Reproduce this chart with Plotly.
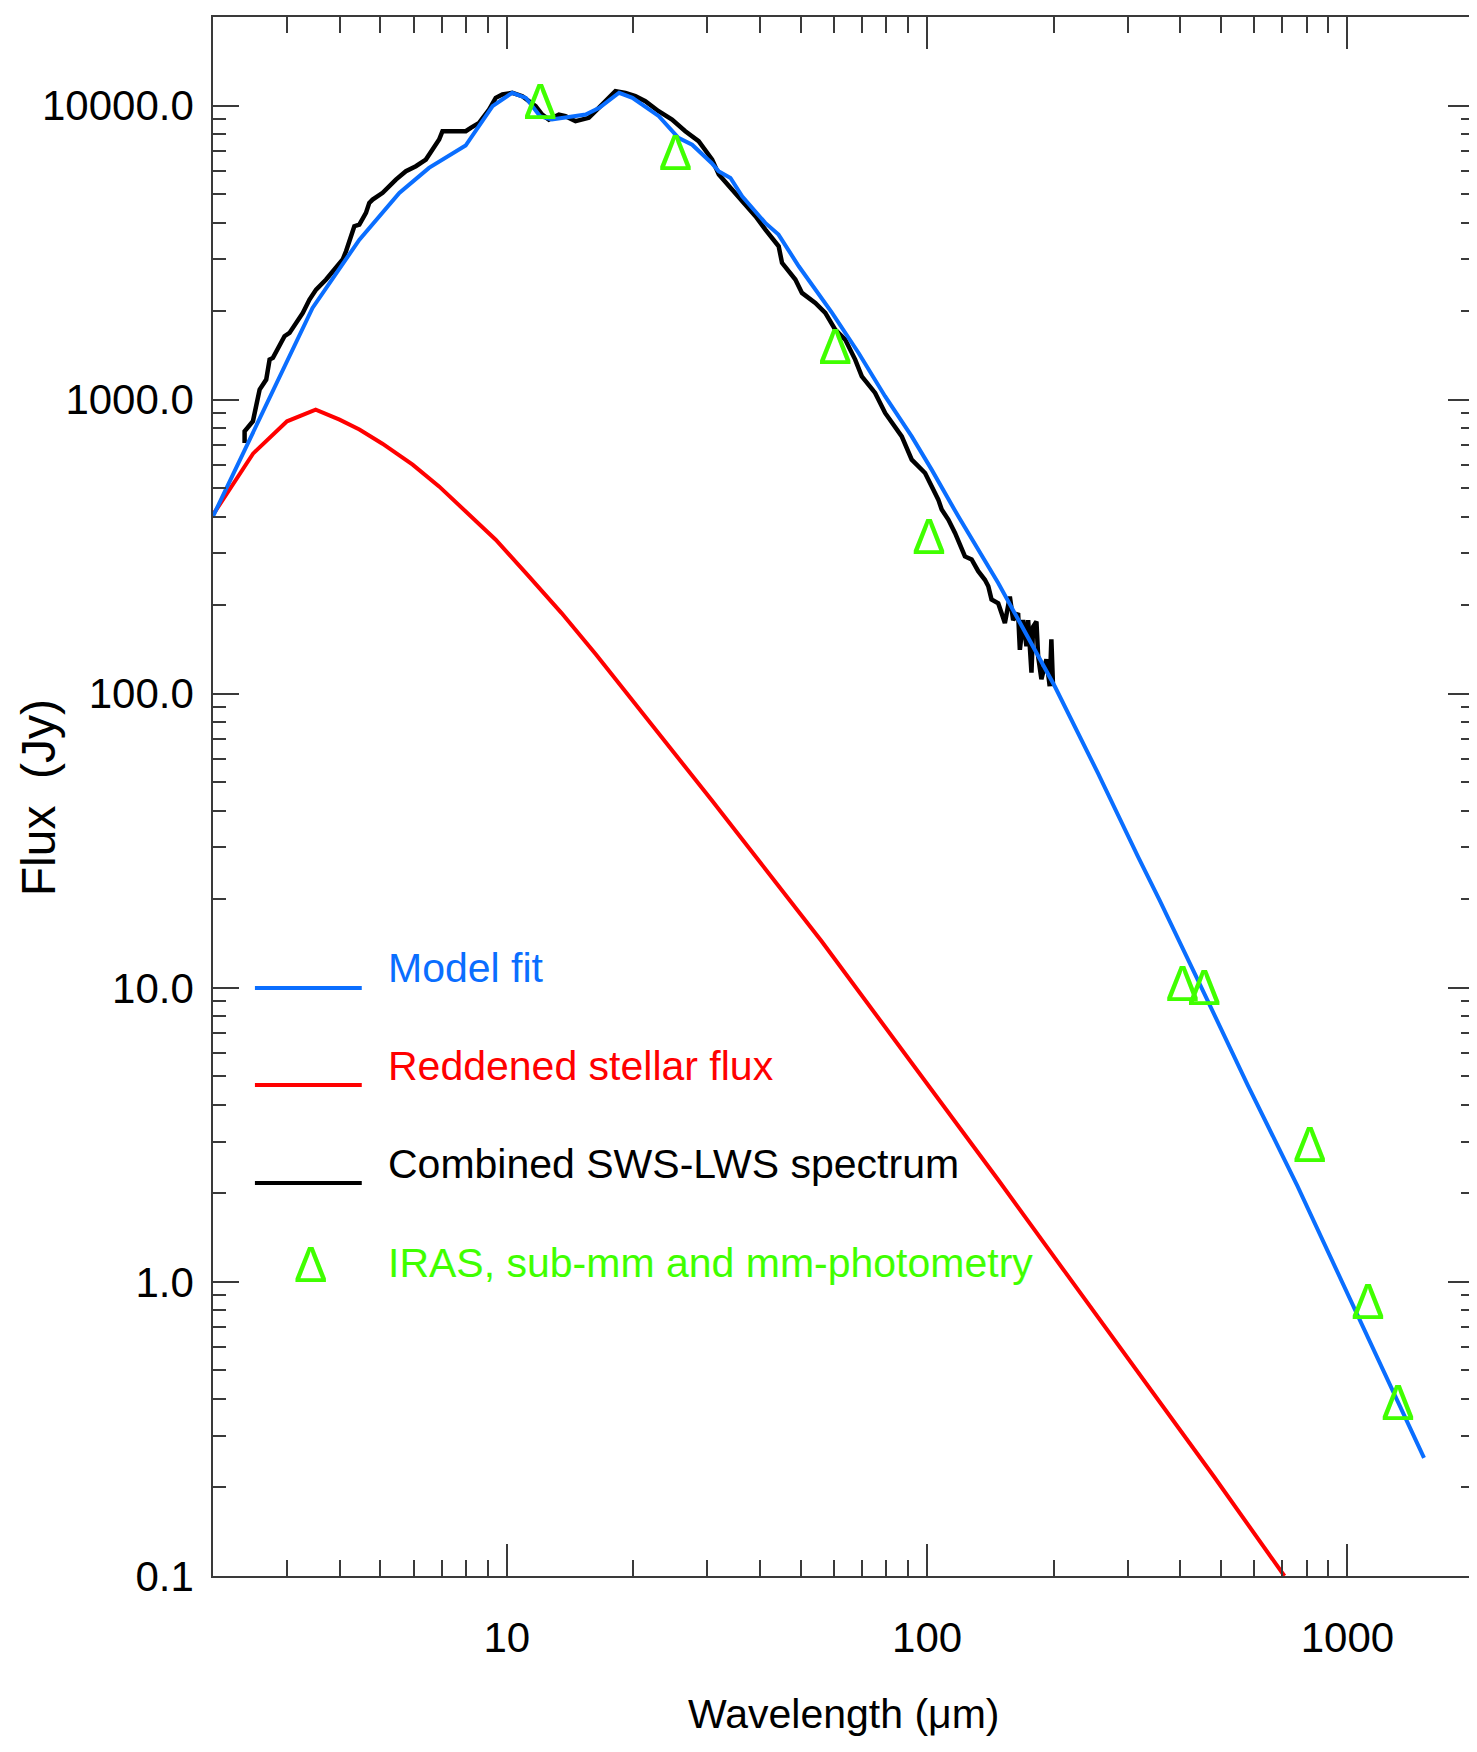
import plotly.graph_objects as go

# ---------------- data ----------------
wl_model = [2.0, 3.45, 4.46, 5.55, 6.53, 7.98, 9.25, 10.3, 11.1, 12.0, 12.8, 15.4, 16.6,
            18.5, 19.9, 23.0, 25.6, 27.6, 30.7, 31.9, 34.05, 36.3, 41.2, 44.3, 49.5,
            59.4, 68.7, 79.4, 91.9, 102.5, 118.6, 147.6, 201.2, 254.9, 317.2, 357,
            441, 579, 760, 1018, 1178, 1521]
flux_model = [401, 2051, 3499, 5045, 6139, 7311, 9950, 11050, 10620, 9200, 8960, 9320, 9820,
              11050, 10620, 9200, 7770, 7360, 6380, 5984, 5675, 4914, 3990, 3641, 2841,
              1972, 1441, 1027, 750, 578, 401, 238, 106, 53.7, 28.0, 19.9,
              10.6, 4.67, 2.12, 0.869, 0.557, 0.252]

wl_star = [2.0, 2.49, 3.0, 3.51, 4.0, 4.46, 5.06, 5.97, 6.9, 7.98, 9.41, 11.3, 13.5, 16.3,
           19.5, 23.4, 30.7, 56.1, 102.6, 147.7, 212, 254.6, 305, 482, 708]
flux_star = [406, 655, 844, 925, 855, 791, 708, 601, 507, 417, 334, 250, 188, 136,
             98.5, 71.0, 43.5, 14.4, 4.50, 2.22, 1.09, 0.76, 0.53, 0.217, 0.100]

wl_sws = [2.378, 2.378, 2.489, 2.535, 2.582, 2.677, 2.727, 2.777, 2.879, 2.959, 3.041, 3.154,
          3.271, 3.393, 3.518, 3.716, 3.924, 4.070, 4.145, 4.221, 4.338, 4.458, 4.623, 4.708,
          4.795, 5.065, 5.349, 5.447, 5.754, 6.077, 6.419, 6.657, 6.903, 7.030, 7.425, 7.988,
          8.209, 8.592, 9.075, 9.411, 9.760, 10.31, 10.89, 11.29, 11.71, 12.14, 12.59, 13.30,
          13.79, 14.57, 15.11, 15.67, 16.55, 17.48, 18.13, 19.15, 20.22, 21.36, 22.97, 24.72,
          26.59, 28.60, 30.80, 31.95, 34.37, 36.30, 39.05, 41.23, 44.34, 45.16, 48.58, 50.38,
          54.19, 57.24, 60.44, 63.84, 67.42, 69.92, 75.21, 79.44, 82.39, 87.02, 91.91, 98.86,
          104.4, 106.3, 108.3, 112.3, 116.5, 120.8, 123.0, 127.6, 132.3, 137.2, 139.8, 142.3,
          147.6, 150.3, 153.1, 157.3, 160.2, 164.6, 166.2, 169.2, 172.3, 173.9, 177.1, 178.7,
          182.0, 183.7, 187.0, 192.2, 195.7, 197.5, 199.3]
flux_sws = [712, 780, 844, 974, 1082, 1170, 1368, 1386, 1519, 1643, 1686, 1823,
            1972, 2189, 2367, 2560, 2805, 2994, 3196, 3456, 3887, 3938, 4315, 4667,
            4790, 5047, 5458, 5602, 5980, 6219, 6552, 7086, 7662, 8179, 8179, 8179,
            8398, 8733, 9692, 10619, 10901, 11043, 10759, 10347, 9949, 9320, 8963, 9320,
            9201, 8846, 8963, 9081, 9819, 10619, 11189, 11043, 10759, 10347, 9567, 8963,
            8179, 7562, 6552, 5825, 5179, 4790, 4203, 3787, 3323, 2917, 2560, 2306,
            2133, 1972, 1730, 1600, 1368, 1200, 1054, 901, 833, 750, 625, 563,
            481, 457, 423, 391, 352, 309, 293, 286, 261, 244, 232, 209,
            203, 188, 174, 214, 178, 188, 141, 178, 145, 178, 118, 169,
            176, 134, 112, 131, 106, 153, 106]

wl_phot = [12.0, 25.2, 60.4, 101, 405, 456, 813, 1119, 1318]
flux_phot = [9930, 6640, 1452, 330, 9.98, 9.64, 2.81, 0.822, 0.375]

x_tickvals = [10, 100, 1000]
x_ticktext = ["10", "100", "1000"]
x_minor = [3, 4, 5, 6, 7, 8, 9, 20, 30, 40, 50, 60, 70, 80, 90,
           200, 300, 400, 500, 600, 700, 800, 900]
y_tickvals = [0.1, 1, 10, 100, 1000, 10000]
y_ticktext = ["0.1", "1.0", "10.0", "100.0", "1000.0", "10000.0"]
y_minor = [0.2, 0.3, 0.4, 0.5, 0.6, 0.7, 0.8, 0.9, 2, 3, 4, 5, 6, 7, 8, 9,
           20, 30, 40, 50, 60, 70, 80, 90, 200, 300, 400, 500, 600, 700, 800, 900,
           2000, 3000, 4000, 5000, 6000, 7000, 8000, 9000]

legend_labels = ["Model fit", "Reddened stellar flux",
                 "Combined SWS-LWS spectrum", "IRAS, sub-mm and mm-photometry"]
x_title = "Wavelength (μm)"
y_title = "Flux\u00a0\u00a0(Jy)"

# ---------------- styles ----------------
BLUE = "#0A6EFF"
RED = "#FF0000"
BLACK = "#000000"
GREEN = "#40FF00"
FONT = "Liberation Sans Narrow, Arial Narrow, Liberation Sans, Arial, sans-serif"
AXC = "#3a3a3a"

# page body has an 8px margin: figure is sized/offset so the plot area lands at
# screen x 213..1476, y 17..1576
OFF = 8
W, H = 1477 - OFF, 1752 - OFF
L, R, T, B = 213 - OFF, 1, 17 - OFF, 176
PW, PH = W - L - R, H - T - B
SX0, SY1 = 213, 1576   # screen coords of plot-area left / bottom


def px(sx):
    return (sx - SX0) / PW


def py(sy):
    return (SY1 - sy) / PH


fig = go.Figure()
fig.add_trace(go.Scatter(x=wl_sws, y=flux_sws, mode="lines",
                         line=dict(color=BLACK, width=4.5), showlegend=False))
fig.add_trace(go.Scatter(x=wl_star, y=flux_star, mode="lines",
                         line=dict(color=RED, width=4), showlegend=False))
fig.add_trace(go.Scatter(x=wl_model, y=flux_model, mode="lines",
                         line=dict(color=BLUE, width=4), showlegend=False))
fig.add_trace(go.Scatter(x=wl_phot, y=flux_phot, mode="text", text=["Δ"] * len(wl_phot),
                         textposition="middle center",
                         textfont=dict(family=FONT, size=50, color=GREEN),
                         showlegend=False, cliponaxis=False))

# custom legend
leg_line_y = [988, 1085, 1183]
leg_colors = [BLUE, RED, BLACK]
for yy, cc in zip(leg_line_y, leg_colors):
    fig.add_shape(type="line", xref="paper", yref="paper",
                  x0=px(255), x1=px(362), y0=py(yy), y1=py(yy),
                  line=dict(color=cc, width=4))
leg_text_y = [968, 1066, 1164, 1263]
leg_text_c = [BLUE, RED, BLACK, GREEN]
for lab, yy, cc in zip(legend_labels, leg_text_y, leg_text_c):
    fig.add_annotation(text=lab, xref="paper", yref="paper", x=px(386), y=py(yy),
                       xanchor="left", yanchor="middle", showarrow=False,
                       font=dict(family=FONT, size=41, color=cc))
fig.add_annotation(text="Δ", xref="paper", yref="paper", x=px(310.5), y=py(1265),
                   xanchor="center", yanchor="middle", showarrow=False,
                   font=dict(family=FONT, size=50, color=GREEN))

# axis titles
fig.add_annotation(text=x_title, xref="paper", yref="paper", x=px(845), y=py(1714),
                   xanchor="center", yanchor="middle", showarrow=False,
                   font=dict(family=FONT, size=41, color="black"))
fig.add_annotation(text=y_title, xref="paper", yref="paper", x=px(38), y=py(798),
                   xanchor="center", yanchor="middle", showarrow=False, textangle=-90,
                   font=dict(family="Liberation Sans, Arial, sans-serif", size=48,
                             color="black"))

axis_common = dict(showgrid=False, zeroline=False, showline=True, linecolor=AXC,
                   linewidth=1.5, mirror="ticks", ticks="inside", tickcolor=AXC,
                   tickwidth=1.5, tickfont=dict(family=FONT, size=42, color="black"))

fig.update_xaxes(type="log", range=[0.30103, 3.30103], tickmode="array",
                 tickvals=x_tickvals, ticktext=x_ticktext, ticklen=32,
                 ticklabelstandoff=24,
                 minor=dict(ticks="inside", ticklen=16, tickvals=x_minor,
                            tickcolor=AXC, tickwidth=1.5, showgrid=False),
                 **axis_common)
fig.update_yaxes(type="log", range=[-1, 4.30103], tickmode="array",
                 tickvals=y_tickvals, ticktext=y_ticktext, ticklen=26,
                 ticklabelstandoff=9,
                 minor=dict(ticks="inside", ticklen=13, tickvals=y_minor,
                            tickcolor=AXC, tickwidth=1.5, showgrid=False),
                 **axis_common)

fig.update_layout(width=W, height=H, margin=dict(l=L, r=R, t=T, b=B, pad=0),
                  plot_bgcolor="white", paper_bgcolor="white", showlegend=False)

fig.write_html("out.html")
